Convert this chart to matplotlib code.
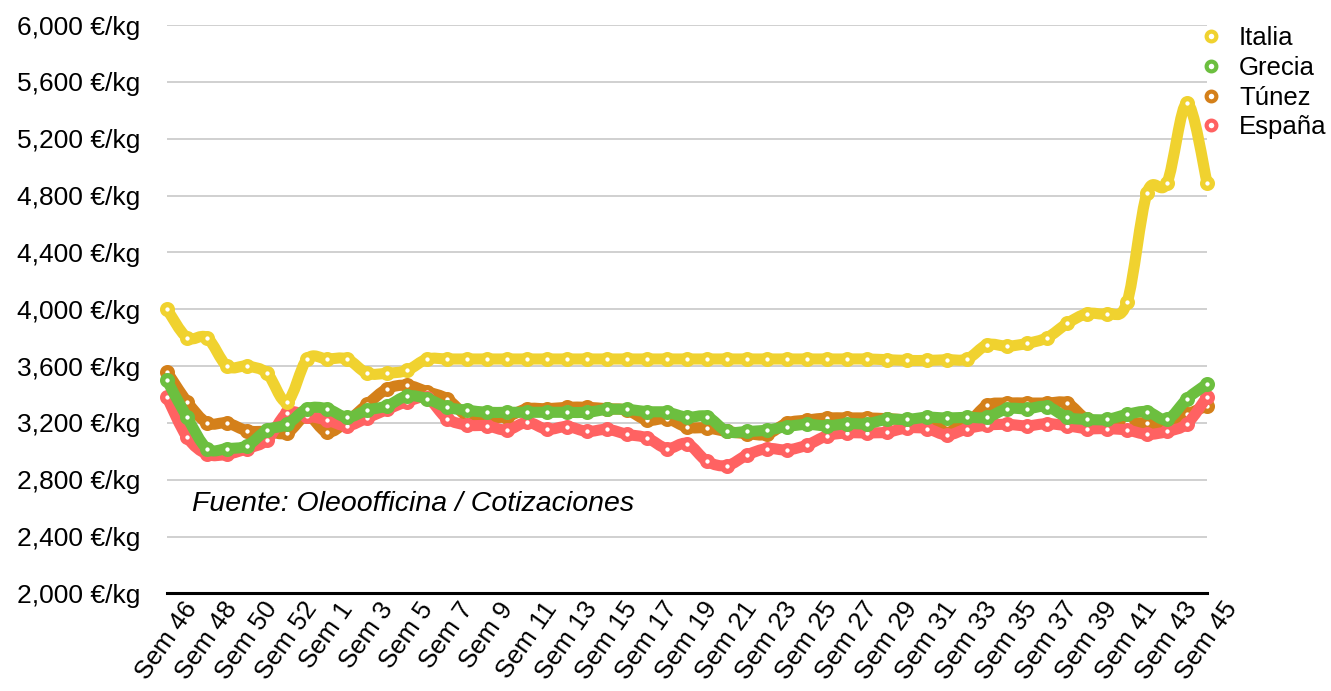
import matplotlib.pyplot as plt
from matplotlib.lines import Line2D
from matplotlib.path import Path
from matplotlib.patches import PathPatch

# semanas de campaña (sem 46 -> sem 45 del año siguiente)
semanas = [46, 47, 48, 49, 50, 51, 52, 53,
           1, 2, 3, 4, 5, 6, 7, 8, 9, 10, 11, 12, 13, 14, 15,
           16, 17, 18, 19, 20, 21, 22, 23, 24, 25, 26, 27, 28, 29, 30,
           31, 32, 33, 34, 35, 36, 37, 38, 39, 40, 41, 42, 43, 44, 45]

italia = [4000, 3800, 3800, 3600, 3600, 3550, 3350, 3650, 3650, 3650, 3550,
          3550, 3570, 3650, 3650, 3650, 3650, 3650, 3650, 3650, 3650, 3650,
          3650, 3650, 3650, 3650, 3650, 3650, 3650, 3650, 3650, 3650, 3650,
          3650, 3650, 3650, 3645, 3640, 3640, 3645, 3650, 3750, 3740, 3760,
          3800, 3900, 3970, 3970, 4050, 4820, 4890, 5450, 4890]

grecia = [3500, 3240, 3020, 3020, 3040, 3150, 3190, 3300, 3300, 3240, 3290,
          3320, 3390, 3370, 3310, 3290, 3275, 3275, 3275, 3275, 3275, 3275,
          3295, 3295, 3280, 3275, 3240, 3245, 3140, 3140, 3150, 3175, 3190,
          3180, 3195, 3195, 3225, 3225, 3240, 3235, 3240, 3240, 3300, 3300,
          3315, 3240, 3225, 3225, 3260, 3280, 3225, 3370, 3475]

tunez = [3560, 3350, 3200, 3200, 3145, 3140, 3130, 3250, 3135, 3210, 3330,
         3440, 3465, 3420, 3370, 3250, 3240, 3245, 3300, 3300, 3310, 3310,
         3300, 3290, 3220, 3230, 3170, 3165, 3140, 3125, 3120, 3200, 3220,
         3235, 3235, 3235, 3230, 3220, 3200, 3190, 3200, 3325, 3340, 3340,
         3340, 3340, 3225, 3215, 3200, 3200, 3180, 3260, 3320]

espana = [3380, 3100, 2980, 2980, 3020, 3080, 3270, 3250, 3220, 3180, 3235,
          3295, 3350, 3375, 3230, 3185, 3180, 3150, 3205, 3155, 3175, 3140,
          3155, 3120, 3095, 3020, 3055, 2930, 2900, 2975, 3020, 3010, 3045,
          3110, 3130, 3130, 3135, 3165, 3160, 3115, 3160, 3185, 3190, 3180,
          3195, 3180, 3160, 3160, 3150, 3120, 3140, 3195, 3385]

y_ticks = [2000, 2400, 2800, 3200, 3600, 4000, 4400, 4800, 5200, 5600, 6000]


def curva(xs, ys):
    # trazo suavizado (bezier tipo catmull-rom) que pasa por los puntos
    n = len(xs)
    verts = [(xs[0], ys[0])]
    codes = [Path.MOVETO]
    for i in range(n - 1):
        a = max(i - 1, 0)
        b = min(i + 2, n - 1)
        c1 = (xs[i] + (xs[i + 1] - xs[a]) / 6, ys[i] + (ys[i + 1] - ys[a]) / 6)
        c2 = (xs[i + 1] - (xs[b] - xs[i]) / 6, ys[i + 1] - (ys[b] - ys[i]) / 6)
        verts += [c1, c2, (xs[i + 1], ys[i + 1])]
        codes += [Path.CURVE4] * 3
    return Path(verts, codes)


plt.rcParams['font.family'] = ['Liberation Sans', 'DejaVu Sans']

fig = plt.figure(figsize=(13.31, 6.91), dpi=100)
ax = fig.add_axes([0.1255, 0.1411, 0.7814, 0.8227])

x = list(range(len(semanas)))
series = [('Túnez', tunez, '#D4801A', 2),
          ('España', espana, '#FF6262', 3),
          ('Grecia', grecia, '#6CBF3F', 4),
          ('Italia', italia, '#F0D22F', 5)]
for name, vals, col, z in series:
    ax.add_patch(PathPatch(curva(x, vals), fill=False, edgecolor=col, lw=8,
                           capstyle='round', joinstyle='round', zorder=z,
                           clip_on=False))
    ax.plot(x, vals, ls='none', marker='o', ms=7, mew=3.8, mfc='white',
            mec=col, zorder=z, clip_on=False)

ax.set_xlim(0, len(semanas) - 1)
ax.set_ylim(2000, 6000)
ax.set_yticks(y_ticks)
ax.set_yticklabels([f'{v:,} €/kg' for v in y_ticks])
ax.set_xticks(x[::2])
ax.set_xticklabels([f'Sem {w}' for w in semanas[::2]], rotation=55,
                   ha='center', va='top')
ax.tick_params(axis='y', length=0, pad=19, labelsize=19)
ax.tick_params(axis='x', length=0, pad=3, labelsize=18.5)

ax.grid(axis='y', color='#c8c8c8', lw=1.2)
ax.set_axisbelow(True)
for s in ['left', 'right', 'top']:
    ax.spines[s].set_visible(False)
ax.spines['bottom'].set_color('black')
ax.spines['bottom'].set_linewidth(2.2)
ax.spines['bottom'].set_zorder(1)

ax.text(1.25, 2630, 'Fuente: Oleoofficina / Cotizaciones', style='italic',
        fontsize=20.5, va='center', ha='left')

colores = {name: col for name, vals, col, z in series}
handles = [Line2D([], [], ls='none', marker='o', ms=7, mew=3, mfc='white',
                  mec=colores[name], label=name)
           for name in ['Italia', 'Grecia', 'Túnez', 'España']]
ax.legend(handles=handles, loc='upper left', bbox_to_anchor=(0.900, 0.962),
          bbox_transform=fig.transFigure, frameon=False, fontsize=18.5,
          handlelength=1.0, handletextpad=0.6, labelspacing=0.22,
          borderaxespad=0, borderpad=0)

fig.savefig('out.png', dpi=100)
